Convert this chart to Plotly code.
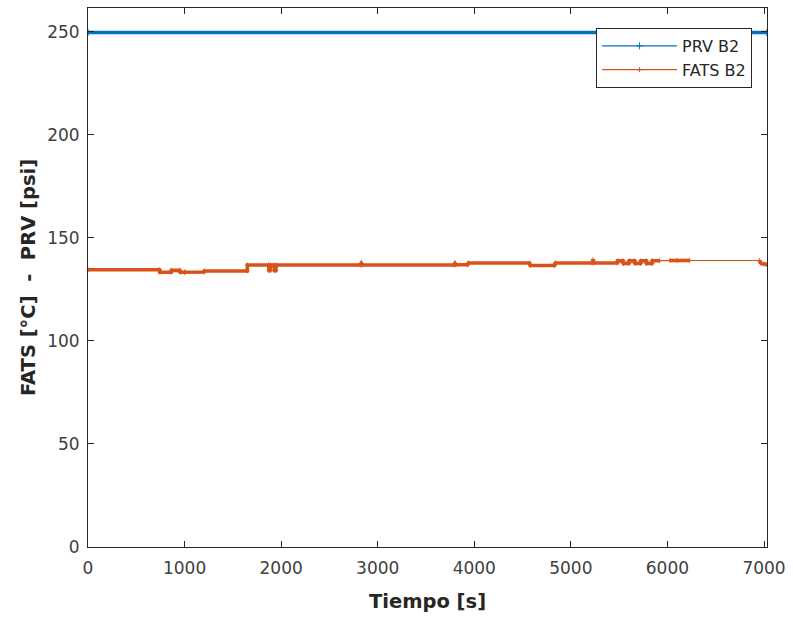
import plotly.graph_objects as go

# ---- data ----
prv_t = [0, 7030]
prv_v = [249.6, 249.6]

fats_t = [0, 740, 745, 860, 865, 950, 955, 1000, 1005, 1200, 1205, 1648, 1652,
          1870, 1875, 1885, 1890, 1925, 1930, 1945, 1950, 2820, 2830, 2840,
          3790, 3800, 3810, 3930, 3940, 4570, 4580, 4830, 4840, 5220, 5230, 5240,
          5480, 5485, 5540, 5545, 5600, 5605, 5660, 5665, 5720, 5725, 5780, 5785, 5840, 5845, 5920,
          6025, 6100, 6230, 6950, 6970, 7000, 7030]
fats_v = [134.5, 134.5, 133.3, 133.3, 134.2, 134.2, 133.3, 133.3, 133.4, 133.4, 133.9, 133.9, 136.8,
          136.8, 134.2, 134.2, 136.8, 136.8, 134.2, 134.2, 136.8, 136.8, 137.6, 136.8,
          136.8, 137.6, 136.9, 136.9, 137.8, 137.8, 136.6, 136.6, 137.8, 137.8, 139.4, 137.8,
          137.8, 138.8, 138.8, 137.6, 137.6, 138.8, 138.8, 137.6, 137.6, 138.8, 138.8, 137.6, 137.6, 138.9, 138.9,
          139.0, 139.0, 139.0, 139.0, 137.6, 137.3, 137.0]
# sampling gaps (start time of the sparse, thin-line stretches)
fats_gaps = [5920, 6230]

blue = "#0072BD"
orange = "#D95319"
FONT = "DejaVu Sans, Arial, sans-serif"

# thick (dense-sample) rendering of FATS, broken at sampling gaps
thick_t, thick_v = [], []
for t, v in zip(fats_t, fats_v):
    thick_t.append(t)
    thick_v.append(v)
    if t in fats_gaps:
        thick_t.append(None)
        thick_v.append(None)

fig = go.Figure()
fig.add_trace(go.Scatter(x=prv_t, y=prv_v, mode="lines", line=dict(color=blue, width=3.4),
                         showlegend=False, hoverinfo="skip"))
fig.add_trace(go.Scatter(x=thick_t, y=thick_v, mode="lines", line=dict(color=orange, width=3.6),
                         showlegend=False, connectgaps=False, hoverinfo="skip"))
fig.add_trace(go.Scatter(x=prv_t, y=prv_v, mode="lines+markers", name="PRV B2",
                         line=dict(color=blue, width=1.2),
                         marker=dict(symbol="cross-thin", size=5, line=dict(color=blue, width=1))))
fig.add_trace(go.Scatter(x=fats_t, y=fats_v, mode="lines+markers", name="FATS B2",
                         line=dict(color=orange, width=1.2),
                         marker=dict(symbol="cross-thin", size=3.5, line=dict(color=orange, width=1))))

axis_common = dict(
    showgrid=False, zeroline=False, showline=True, linecolor="#262626", linewidth=1,
    mirror="allticks", ticks="inside", ticklen=6, tickcolor="#262626", tickwidth=1,
    tickfont=dict(family=FONT, size=17, color="#404040"),
)

fig.update_layout(
    width=793, height=617,
    margin=dict(l=88, r=22, t=7, b=70),
    paper_bgcolor="white", plot_bgcolor="white",
    font=dict(family=FONT, color="#262626"),
    xaxis=dict(range=[0, 7031], tickvals=[0, 1000, 2000, 3000, 4000, 5000, 6000, 7000],
               ticklabelstandoff=6,
               title=dict(text="<b>Tiempo [s]</b>", font=dict(size=19.5, color="#262626"), standoff=16),
               **axis_common),
    yaxis=dict(range=[0, 261.5], tickvals=[0, 50, 100, 150, 200, 250],
               ticklabelstandoff=4,
               title=dict(text="<b>FATS [°C]\u00a0\u00a0-\u00a0\u00a0PRV [psi]</b>",
                          font=dict(size=19.5, color="#262626"), standoff=6),
               **axis_common),
    legend=dict(x=0.978, y=0.963, xanchor="right", yanchor="top",
                bgcolor="white", bordercolor="#262626", borderwidth=1,
                font=dict(family=FONT, size=16, color="#262626"),
                tracegroupgap=2, itemwidth=75),
)

fig.write_html("out.html")
